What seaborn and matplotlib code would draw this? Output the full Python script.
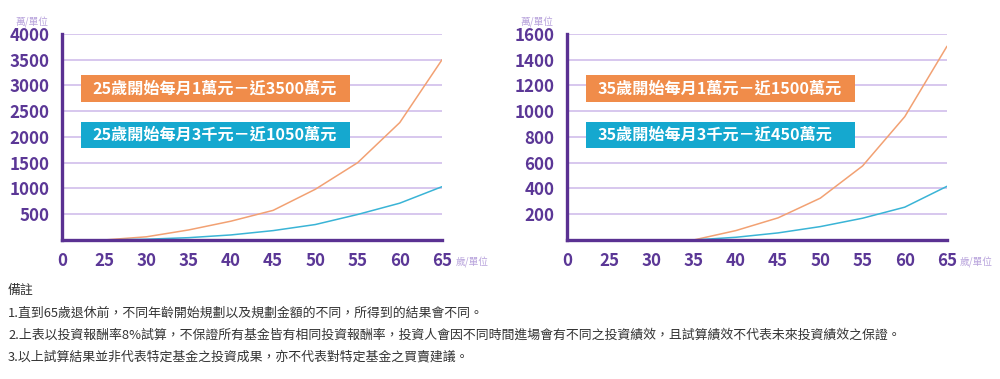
import matplotlib
matplotlib.use('Agg')
import matplotlib.pyplot as plt
import seaborn as sns
import pandas as pd
from matplotlib.patches import Rectangle

# x axis categories (equally spaced)
x_labels = ['0', '25', '30', '35', '40', '45', '50', '55', '60', '65']

# left chart: start at 25
ages_25 = [25, 30, 35, 40, 45, 50, 55, 60, 65]
wan_10k_25 = [0, 62, 195, 365, 575, 985, 1500, 2280, 3500]
wan_3k_25 = [0, 15, 45, 98, 182, 300, 495, 715, 1035]

# right chart: start at 35
ages_35 = [35, 40, 45, 50, 55, 60, 65]
wan_10k_35 = [0, 73, 172, 325, 575, 958, 1505]
wan_3k_35 = [0, 21, 55, 104, 169, 255, 417]

left_yticks = [500, 1000, 1500, 2000, 2500, 3000, 3500, 4000]
right_yticks = [200, 400, 600, 800, 1000, 1200, 1400, 1600]

left_labels = ['25歲開始每月1萬元－近3500萬元', '25歲開始每月3千元－近1050萬元']
right_labels = ['35歲開始每月1萬元－近1500萬元', '35歲開始每月3千元－近450萬元']

notes = [
    '備註',
    '1.直到65歲退休前，不同年齡開始規劃以及規劃金額的不同，所得到的結果會不同。',
    '2.上表以投資報酬率8%試算，不保證所有基金皆有相同投資報酬率，投資人會因不同時間進場會有不同之投資績效，且試算績效不代表未來投資績效之保證。',
    '3.以上試算結果並非代表特定基金之投資成果，亦不代表對特定基金之買賣建議。',
]

sns.set_style('white')
plt.rcParams['font.family'] = ['Noto Sans CJK TC', 'DejaVu Sans']

ORANGE_LINE = '#f2a173'
BLUE_LINE = '#3ab4d6'
ORANGE_BOX = '#f08c4a'
BLUE_BOX = '#15a8cf'
SPINE = '#5a3192'
GRID = '#cdb8ea'
TICKTXT = '#5b3796'
UNIT = '#b8a3dc'

fig = plt.figure(figsize=(10, 3.79), dpi=100)


def draw_panel(rect, ages, s1, s2, ymax, yticks, labels):
    ax = fig.add_axes(rect)
    pos = [x_labels.index(str(a)) for a in ages]
    df = pd.DataFrame({'pos': pos + pos,
                       'val': s1 + s2,
                       'series': ['a'] * len(pos) + ['b'] * len(pos)})
    sns.lineplot(data=df, x='pos', y='val', hue='series',
                 palette={'a': ORANGE_LINE, 'b': BLUE_LINE},
                 linewidth=1.1, legend=False, ax=ax, zorder=3)
    ax.set_xlim(0, len(x_labels) - 1)
    ax.set_ylim(0, ymax)
    ax.set_xticks(range(len(x_labels)))
    ax.set_xticklabels(x_labels)
    ax.set_yticks(yticks)
    ax.set_xlabel('')
    ax.set_ylabel('')
    for y in yticks:
        ax.axhline(y, color=GRID, lw=1.1, zorder=1)
    for s in ['top', 'right']:
        ax.spines[s].set_visible(False)
    for s in ['left', 'bottom']:
        ax.spines[s].set_color(SPINE)
        ax.spines[s].set_linewidth(2.4)
        ax.spines[s].set_zorder(4)
    ax.tick_params(axis='both', which='both', length=4, width=1.1,
                   color=GRID, labelcolor=TICKTXT, labelsize=12.2)
    ax.tick_params(axis='y', pad=5)
    ax.tick_params(axis='x', pad=5)
    for t in ax.get_xticklabels() + ax.get_yticklabels():
        t.set_fontweight('bold')
    # label boxes
    boxes = [(0.670, 0.131, ORANGE_BOX), (0.447, 0.126, BLUE_BOX)]
    for (y0, h, c), txt in zip(boxes, labels):
        ax.add_patch(Rectangle((0.05, y0), 0.708, h, transform=ax.transAxes,
                               facecolor=c, edgecolor='none', zorder=5))
        ax.text(0.080, y0 + h / 2, txt, transform=ax.transAxes, ha='left',
                va='center', color='white', fontsize=11.6, fontweight='bold',
                zorder=6)
    return ax


axl = draw_panel([0.062, 0.3668, 0.38, 0.5435], ages_25, wan_10k_25, wan_3k_25,
                 4000, left_yticks, left_labels)
axr = draw_panel([0.567, 0.3668, 0.38, 0.5435], ages_35, wan_10k_35, wan_3k_35,
                 1600, right_yticks, right_labels)

# unit labels
for x0 in [0.015, 0.520]:
    fig.text(x0, 1 - 22 / 379, '萬/單位', color=UNIT, fontsize=7, va='center')
for x0 in [0.456, 0.960]:
    fig.text(x0, 1 - 262 / 379, '歲/單位', color=UNIT, fontsize=7, va='center')

# notes
note_y = [290, 313, 335, 357]
for y, txt in zip(note_y, notes):
    fig.text(0.008, 1 - y / 379, txt, color='#333333', fontsize=9.3,
             va='center', ha='left')

fig.savefig('out.png', dpi=100)
